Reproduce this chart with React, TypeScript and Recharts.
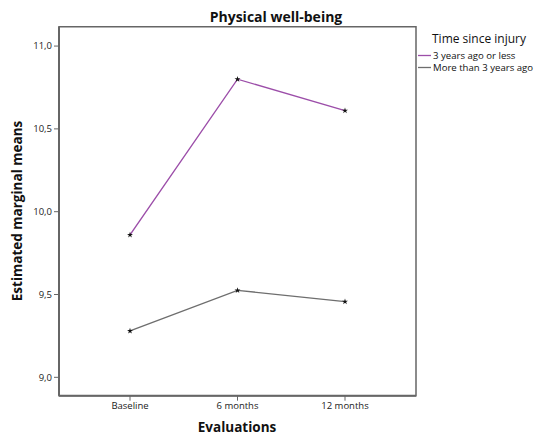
import { Customized, Line, LineChart, ReferenceArea, Symbols, XAxis, YAxis } from 'recharts';

const categories = ['Baseline', '6 months', '12 months'];
const recentInjury = [9.86, 10.8, 10.61];
const olderInjury = [9.28, 9.525, 9.457];
const yTicks = [9.0, 9.5, 10.0, 10.5, 11.0];
const seriesNames = ['3 years ago or less', 'More than 3 years ago'];
const seriesColors = ['#9c4ea9', '#6e6e6e'];

const Y_MIN = 8.889;
const Y_MAX = 11.117;

const data = categories.map((c, i) => ({
  evaluation: c,
  recent: recentInjury[i],
  older: olderInjury[i],
}));

const fmt = (v: number) => v.toFixed(1).replace('.', ',');

const StarDot = (props: any) => {
  const { cx, cy, index } = props;
  if (cx == null || cy == null) return null;
  return <Symbols key={index} cx={cx} cy={cy} type="star" size={11} fill="#111" stroke="none" />;
};

const Texts = () => (
  <g>
    <text x={276} y={22} textAnchor="middle" fontSize={14} fontWeight="bold" fill="#111">
      Physical well-being
    </text>
    <text
      x={22}
      y={211}
      transform="rotate(-90 22 211)"
      textAnchor="middle"
      fontSize={13.5}
      fontWeight="bold"
      fill="#111"
    >
      Estimated marginal means
    </text>
    <text x={237} y={432} textAnchor="middle" fontSize={13.5} fontWeight="bold" fill="#111">
      Evaluations
    </text>
    <text x={432} y={43} fontSize={12} fill="#111">
      Time since injury
    </text>
    {seriesNames.map((name, i) => (
      <g key={name}>
        <line x1={418} x2={431} y1={55.5 + i * 12} y2={55.5 + i * 12} stroke={seriesColors[i]} strokeWidth={1.3} />
        <text x={433} y={59 + i * 12} fontSize={9.6} fill="#111">
          {name}
        </text>
      </g>
    ))}
  </g>
);

const frame = { stroke: '#666', strokeWidth: 2 };

export default function App() {
  return (
    <div style={{ position: 'absolute', left: 0, top: 0, fontFamily: '"Open Sans", sans-serif', background: '#fff' }}>
      <LineChart width={543} height={439} data={data} margin={{ top: 26.7, right: 127, bottom: 13.3, left: 19 }}>
        <XAxis xAxisId="frame" dataKey="evaluation" hide />
        <ReferenceArea
          xAxisId="frame"
          x1={categories[0]}
          x2={categories[categories.length - 1]}
          y1={Y_MIN}
          y2={Y_MAX}
          fill="none"
          stroke="#666"
          strokeWidth={1.5}
          ifOverflow="visible"
        />
        <XAxis
          dataKey="evaluation"
          height={30}
          padding={{ left: 71, right: 71 }}
          axisLine={frame}
          tickLine={{ stroke: '#666' }}
          tickSize={5}
          tick={{ fontSize: 9.5, fill: '#222' }}
        />
        <YAxis
          width={40}
          domain={[Y_MIN, Y_MAX]}
          ticks={yTicks}
          tickFormatter={fmt}
          axisLine={frame}
          tickLine={{ stroke: '#666' }}
          tickSize={5}
          tick={{ fontSize: 9.5, fill: '#222' }}
        />
        <Line
          dataKey="recent"
          name={seriesNames[0]}
          stroke={seriesColors[0]}
          strokeWidth={1.4}
          dot={StarDot}
          activeDot={false}
          isAnimationActive={false}
        />
        <Line
          dataKey="older"
          name={seriesNames[1]}
          stroke={seriesColors[1]}
          strokeWidth={1.4}
          dot={StarDot}
          activeDot={false}
          isAnimationActive={false}
        />
        <Customized component={Texts} />
      </LineChart>
    </div>
  );
}
